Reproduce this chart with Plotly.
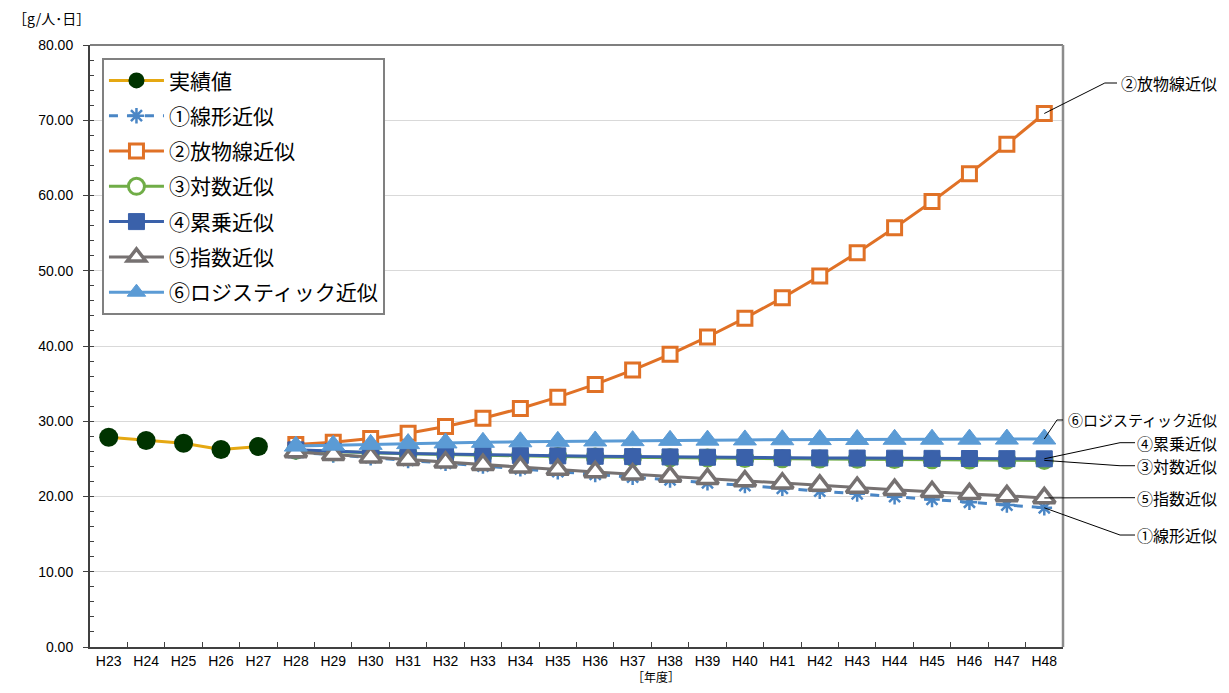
import plotly.graph_objects as go

categories = ["H23", "H24", "H25", "H26", "H27", "H28", "H29", "H30", "H31", "H32", "H33", "H34", "H35",
              "H36", "H37", "H38", "H39", "H40", "H41", "H42", "H43", "H44", "H45", "H46", "H47", "H48"]
actual_years = categories[:5]
forecast_years = categories[5:]

actual = [27.87, 27.44, 27.08, 26.24, 26.64]
linear = [25.90, 25.53, 25.16, 24.79, 24.42, 24.05, 23.68, 23.31, 22.94, 22.57, 22.20,
          21.83, 21.46, 21.09, 20.72, 20.35, 19.98, 19.61, 19.24, 18.87, 18.50]
parabola = [26.9, 27.2, 27.7, 28.4, 29.3, 30.4, 31.7, 33.2, 34.9, 36.8, 38.9,
            41.2, 43.7, 46.4, 49.3, 52.4, 55.7, 59.2, 62.9, 66.8, 70.9]
logarithmic = [26.15, 25.95, 25.80, 25.67, 25.56, 25.47, 25.39, 25.32, 25.26, 25.20, 25.15,
               25.10, 25.06, 25.02, 24.98, 24.95, 24.92, 24.89, 24.86, 24.83, 24.80]
power = [26.20, 26.00, 25.85, 25.72, 25.62, 25.53, 25.46, 25.40, 25.35, 25.30, 25.26,
         25.22, 25.19, 25.16, 25.13, 25.11, 25.09, 25.07, 25.05, 25.03, 25.01]
exponential = [25.90, 25.56, 25.21, 24.88, 24.55, 24.22, 23.90, 23.58, 23.27, 22.96, 22.65,
               22.35, 22.05, 21.76, 21.47, 21.19, 20.91, 20.63, 20.35, 20.08, 19.81]
logistic = [26.70, 26.82, 26.93, 27.03, 27.12, 27.20, 27.27, 27.33, 27.38, 27.42, 27.46,
            27.49, 27.52, 27.54, 27.56, 27.58, 27.60, 27.61, 27.62, 27.63, 27.64]

names = ["実績値", "①線形近似", "②放物線近似", "③対数近似", "④累乗近似", "⑤指数近似", "⑥ロジスティック近似"]
y_ticks = [0, 10, 20, 30, 40, 50, 60, 70, 80]

CJK = "Noto Sans CJK JP"
NUM = "Liberation Sans, Arial, sans-serif"

fig = go.Figure()

fig.add_trace(go.Scatter(x=actual_years, y=actual, name=names[0], mode="lines+markers", legendgroup="g0",
                         line=dict(color="#E5A812", width=3),
                         marker=dict(symbol="circle", size=19, color="#003300", line=dict(width=0))))
fig.add_trace(go.Scatter(x=forecast_years, y=linear, name=names[1], mode="lines+markers", legendgroup="g1",
                         line=dict(color="#4A86C5", width=3, dash="dash"),
                         marker=dict(symbol="asterisk-open", size=13, color="#4A86C5",
                                     line=dict(color="#4A86C5", width=2.5))))
fig.add_trace(go.Scatter(x=forecast_years, y=parabola, name=names[2], mode="lines+markers", legendgroup="g2",
                         line=dict(color="#E07126", width=3),
                         marker=dict(symbol="square", size=14, color="white",
                                     line=dict(color="#E07126", width=3))))
fig.add_trace(go.Scatter(x=forecast_years, y=logarithmic, name=names[3], mode="lines+markers", legendgroup="g3",
                         line=dict(color="#70AD47", width=3),
                         marker=dict(symbol="circle", size=16, color="white",
                                     line=dict(color="#70AD47", width=3))))
fig.add_trace(go.Scatter(x=forecast_years, y=power, name=names[4], mode="lines+markers", legendgroup="g4",
                         line=dict(color="#3A61AA", width=3),
                         marker=dict(symbol="square", size=16, color="#3A61AA",
                                     line=dict(color="#3A61AA", width=1))))
fig.add_trace(go.Scatter(x=forecast_years, y=exponential, name=names[5], mode="lines+markers", legendgroup="g5",
                         line=dict(color="#767171", width=3),
                         marker=dict(symbol="triangle-up", size=19, color="white",
                                     line=dict(color="#767171", width=3.5))))
fig.add_trace(go.Scatter(x=forecast_years, y=logistic, name=names[6], mode="lines+markers", legendgroup="g6",
                         line=dict(color="#5B9BD5", width=3),
                         marker=dict(symbol="triangle-up", size=20, color="#5B9BD5",
                                     line=dict(color="#5B9BD5", width=1))))

# the page has an 8px body margin, so the figure is sized to fit the 1229x693 window
fig.update_layout(
    width=1213, height=677,
    margin=dict(l=82, r=158, t=37, b=38),
    paper_bgcolor="white", plot_bgcolor="white",
    showlegend=True,
    legend=dict(x=0.0123, y=0.978, xanchor="left", yanchor="top",
                bgcolor="white", bordercolor="#808080", borderwidth=2,
                font=dict(family=CJK, size=21, color="#000000"),
                tracegroupgap=5, itemwidth=55),
    font=dict(family=NUM, color="#000000"),
)

fig.update_xaxes(type="category", categoryorder="array", categoryarray=categories,
                 range=[-0.5, len(categories) - 0.5],
                 showgrid=False, showline=True, linecolor="#404040", linewidth=2,
                 ticks="inside", tickson="boundaries", ticklen=5, tickcolor="#404040", tickwidth=1,
                 tickfont=dict(family="Liberation Sans Narrow, Liberation Sans, sans-serif", size=14, color="#000"),
                 ticklabelstandoff=0, zeroline=False, fixedrange=True)
fig.update_yaxes(range=[0, 80], tickvals=y_ticks, tickformat=".2f",
                 showgrid=True, gridcolor="#D9D9D9", gridwidth=1,
                 showline=True, linecolor="#404040", linewidth=2,
                 ticks="outside", ticklen=5, tickcolor="#404040", tickwidth=1,
                 minor=dict(dtick=2, ticks="inside", ticklen=4, tickcolor="#404040", showgrid=False),
                 tickfont=dict(family=NUM, size=14, color="#000"),
                 ticklabelstandoff=7, zeroline=False, fixedrange=True)

# top and right frame
fig.add_shape(type="line", xref="paper", yref="paper", x0=0, x1=1, y0=1, y1=1,
              line=dict(color="#7F7F7F", width=2))
fig.add_shape(type="line", xref="paper", yref="paper", x0=1, x1=1, y0=0, y1=1,
              line=dict(color="#8C8C8C", width=2.5))

# axis titles
fig.add_annotation(text="［g/人･日］", xref="paper", yref="paper", x=-0.081, y=1.045,
                   xanchor="left", yanchor="middle", showarrow=False,
                   font=dict(family=CJK, size=14, color="#000"))
fig.add_annotation(text="［年度］", xref="paper", yref="paper", x=0.5817, y=-0.0495,
                   xanchor="center", yanchor="middle", showarrow=False,
                   font=dict(family=CJK, size=12, color="#000"))

# leader-line labels at the last forecast point
n = len(categories)
last_x = (n - 1 + 0.5) / n
label_right = 1.1603
label_specs = [
    # name, last value, elbow x, elbow y, horizontal end x, font size
    (names[2], parabola[-1], 1.043, 74.95, 1.0555, 16),
    (names[6], logistic[-1], 0.9938, 30.17, 1.0, 15),
    (names[4], power[-1], 1.0586, 27.15, 1.074, 16),
    (names[3], logarithmic[-1], 1.0586, 24.09, 1.074, 16),
    (names[5], exponential[-1], 1.0586, 19.84, 1.074, 16),
    (names[1], linear[-1], 1.0586, 14.88, 1.074, 16),
]
for name, val, ex, ey, hx, fs in label_specs:
    fig.add_shape(type="line", xref="paper", yref="y", x0=last_x, y0=val, x1=ex, y1=ey,
                  line=dict(color="#000000", width=1), layer="above")
    fig.add_shape(type="line", xref="paper", yref="y", x0=ex, y0=ey, x1=hx, y1=ey,
                  line=dict(color="#000000", width=1), layer="above")
    fig.add_annotation(text=name, xref="paper", yref="y", x=label_right, y=ey, xanchor="right", yanchor="middle",
                       showarrow=False, font=dict(family=CJK, size=fs, color="#000"))

fig.write_html("out.html")
